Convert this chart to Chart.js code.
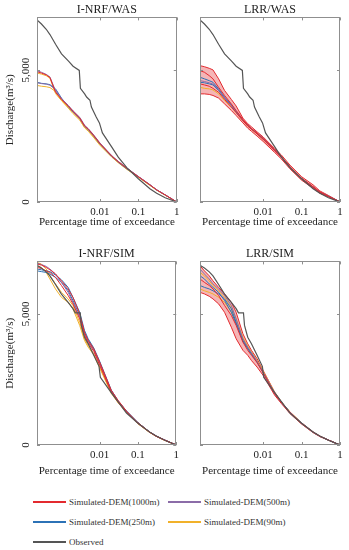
<!DOCTYPE html>
<html>
<head>
<meta charset="utf-8">
<script src="https://cdn.jsdelivr.net/npm/chart.js@4.4.0/dist/chart.umd.min.js"></script>
<style>
  body { margin: 0; background: #fff; }
  #wrap { position: relative; width: 349px; height: 550px; overflow: hidden; font-family: 'Liberation Serif', 'Times New Roman', serif; }
  canvas { position: absolute; }
  .leg { position: absolute; font-size: 9px; line-height: 10px; color: #333; white-space: nowrap; }
  .leg i { position: absolute; left: 0; top: 4px; width: 33px; height: 2px; }
</style>
</head>
<body>
<div id="wrap">
  <canvas id="c1" width="183" height="232" style="left:0;top:0"></canvas>
  <canvas id="c2" width="166" height="232" style="left:183px;top:0"></canvas>
  <canvas id="c3" width="183" height="234" style="left:0;top:244px"></canvas>
  <canvas id="c4" width="166" height="234" style="left:183px;top:244px"></canvas>
  <div id="legend"></div>
</div>
<script>
// Percentage time of exceedance (log axis) and tick labels
const simX = [0.00023, 0.0003, 0.0004, 0.0005, 0.0007, 0.001, 0.0015, 0.002, 0.003, 0.004, 0.005, 0.007, 0.01, 0.02, 0.03, 0.05, 0.1, 0.2, 0.3, 0.5, 1];
const xTicks = [0.01, 0.1, 1];
const xTickLabels = ['0.01', '0.1', '1'];
const yTicks = [0, 5000];
const yTickLabels = ['0', '5,000'];

// Observed discharge (m3/s)
const obsWasX = [0.00023, 0.0003, 0.0004, 0.0005, 0.0007, 0.001, 0.0015, 0.002, 0.0029, 0.0031, 0.004, 0.0045, 0.0055, 0.006, 0.008, 0.0097, 0.0116, 0.02, 0.03, 0.05, 0.1, 0.2, 0.3, 0.5, 1];
const obsWas = [6900, 6750, 6550, 6350, 5980, 5620, 5350, 5150, 4990, 4310, 4100, 3980, 3860, 3600, 3220, 3000, 2620, 2100, 1700, 1300, 880, 500, 330, 160, 0];
const obsSimX = [0.00023, 0.0003, 0.0004, 0.0005, 0.0007, 0.001, 0.0015, 0.002, 0.0023, 0.0031, 0.0033, 0.004, 0.005, 0.007, 0.0096, 0.0104, 0.02, 0.03, 0.05, 0.1, 0.2, 0.3, 0.5, 1];
const obsSim = [6850, 6750, 6600, 6450, 6120, 5750, 5440, 5200, 5040, 5040, 4560, 4110, 3860, 3420, 3000, 2580, 2000, 1650, 1220, 830, 500, 340, 180, 0];

// I-NRF/WAS
const aRed = [4940, 4890, 4820, 4720, 4160, 3890, 3640, 3440, 3180, 2880, 2760, 2510, 2220, 1750, 1530, 1280, 960, 650, 460, 270, 0];
const aPurple1 = [4980, 4920, 4840, 4740, 4210, 3910, 3660, 3460, 3210, 2910, 2780, 2530, 2240, 1770, 1540, 1290, 970, 660, 460, 270, 0];
const aOrange1 = [4890, 4850, 4790, 4690, 4110, 3840, 3590, 3390, 3130, 2830, 2710, 2460, 2180, 1730, 1500, 1250, 950, 630, 450, 260, 0];
const aBlue = [4540, 4500, 4480, 4450, 4290, 3940, 3620, 3410, 3160, 2870, 2740, 2490, 2200, 1740, 1510, 1260, 960, 650, 460, 270, 0];
const aPurple2 = [4520, 4490, 4470, 4430, 4260, 3910, 3650, 3420, 3170, 2880, 2760, 2510, 2220, 1750, 1530, 1280, 960, 650, 460, 270, 0];
const aOrange2 = [4420, 4390, 4370, 4340, 4190, 3850, 3560, 3350, 3100, 2810, 2680, 2430, 2150, 1710, 1490, 1240, 940, 630, 450, 260, 0];

// LRR/WAS
const bRedHi = [5170, 5130, 5070, 5010, 4670, 4230, 3890, 3640, 3180, 2970, 2850, 2660, 2470, 2030, 1780, 1400, 960, 650, 420, 250, 0];
const bRedLo = [4100, 4100, 4080, 4040, 3940, 3720, 3470, 3280, 3000, 2800, 2680, 2500, 2300, 1880, 1630, 1260, 830, 520, 330, 200, 0];
const bRedM1 = [4980, 4920, 4790, 4670, 4350, 4040, 3720, 3470, 3130, 2910, 2780, 2610, 2410, 1980, 1710, 1340, 900, 580, 380, 220, 0];
const bRedM2 = [4480, 4440, 4390, 4310, 4160, 3890, 3600, 3390, 3080, 2880, 2760, 2580, 2380, 1940, 1690, 1310, 870, 560, 360, 210, 0];
const bBlue1 = [4730, 4670, 4600, 4540, 4290, 3980, 3690, 3440, 3110, 2910, 2780, 2610, 2410, 1970, 1700, 1330, 890, 570, 370, 220, 0];
const bBlue2 = [4540, 4520, 4480, 4440, 4230, 3940, 3660, 3410, 3100, 2900, 2770, 2590, 2390, 1950, 1700, 1330, 890, 570, 370, 220, 0];
const bOrange = [4350, 4310, 4290, 4250, 4100, 3850, 3600, 3390, 3080, 2880, 2760, 2580, 2380, 1950, 1700, 1330, 890, 570, 370, 220, 0];
const bPurple = [4600, 4570, 4520, 4470, 4260, 3960, 3670, 3440, 3110, 2910, 2780, 2610, 2410, 1970, 1700, 1330, 890, 570, 370, 220, 0];

// I-NRF/SIM
const cRed1 = [6900, 6860, 6770, 6680, 6520, 6260, 5950, 5630, 5000, 4300, 3990, 3670, 3160, 2090, 1710, 1290, 850, 500, 340, 190, 0];
const cRed2 = [6770, 6730, 6640, 6580, 6390, 6080, 5700, 5380, 4810, 4180, 3900, 3570, 3040, 2020, 1640, 1260, 820, 490, 330, 180, 0];
const cPurple = [6940, 6880, 6810, 6710, 6520, 6200, 5820, 5440, 4870, 4240, 3950, 3630, 3100, 2050, 1670, 1280, 830, 500, 340, 190, 0];
const cBlue1 = [6640, 6610, 6580, 6520, 6390, 6200, 5890, 5510, 4940, 4280, 3990, 3640, 3140, 2070, 1680, 1290, 850, 500, 340, 190, 0];
const cBlue2 = [6710, 6680, 6640, 6610, 6480, 6300, 6010, 5630, 5060, 4370, 4050, 3700, 3190, 2100, 1690, 1300, 850, 500, 340, 190, 0];
const cOrange1 = [6960, 6900, 6710, 6450, 6140, 5820, 5570, 5320, 4680, 4050, 3800, 3480, 2970, 2000, 1630, 1250, 820, 490, 330, 180, 0];
const cOrange2 = [6830, 6770, 6580, 6330, 5950, 5630, 5440, 5190, 4560, 3990, 3730, 3440, 2940, 1970, 1620, 1240, 810, 480, 330, 180, 0];

// LRR/SIM
const dRedHi = [6830, 6640, 6450, 6260, 6010, 5760, 5440, 5060, 4240, 3860, 3610, 3290, 2850, 2020, 1640, 1260, 850, 500, 340, 190, 0];
const dRedLo = [5820, 5760, 5670, 5570, 5380, 5060, 4490, 4050, 3610, 3420, 3220, 2970, 2660, 1900, 1580, 1200, 800, 470, 320, 180, 0];
const dRedMid = [6330, 6200, 6080, 5950, 5700, 5320, 4940, 4560, 3920, 3610, 3420, 3140, 2760, 1960, 1620, 1240, 820, 490, 330, 190, 0];
const dPurple = [6710, 6520, 6330, 6140, 5950, 5700, 5320, 4810, 4050, 3730, 3520, 3190, 2780, 1980, 1630, 1250, 830, 490, 330, 190, 0];
const dBlue1 = [6080, 6010, 5950, 5880, 5760, 5570, 5190, 4680, 3990, 3690, 3480, 3160, 2760, 1970, 1630, 1250, 830, 490, 330, 190, 0];
const dBlue2 = [6450, 6330, 6140, 6010, 5820, 5510, 5060, 4620, 3950, 3670, 3470, 3160, 2780, 1980, 1630, 1250, 830, 490, 330, 190, 0];
const dOrange1 = [5950, 5880, 5820, 5760, 5630, 5440, 5060, 4680, 4050, 3730, 3520, 3210, 2810, 2000, 1640, 1260, 830, 490, 330, 190, 0];
const dOrange2 = [6580, 6450, 6260, 6080, 5880, 5630, 5250, 4810, 4110, 3770, 3540, 3220, 2820, 2000, 1640, 1260, 830, 490, 330, 190, 0];

const colors = { red: '#e32a2f', purple: '#8b6ca8', blue: '#2c72b6', orange: '#f1b12a', obs: '#555555' };
const serif = "'Liberation Serif', 'Times New Roman', serif";

const panels = [
  { id: 'c1', title: 'I-NRF/WAS', obsX: obsWasX, obs: obsWas, left: true,
    sims: [[aRed, 'red'], [aPurple1, 'purple'], [aPurple2, 'purple'], [aBlue, 'blue'], [aOrange1, 'orange'], [aOrange2, 'orange']] },
  { id: 'c2', title: 'LRR/WAS', obsX: obsWasX, obs: obsWas, left: false, band: [bRedHi, bRedLo],
    sims: [[bRedM1, 'red'], [bRedM2, 'red'], [bPurple, 'purple'], [bBlue1, 'blue'], [bBlue2, 'blue'], [bOrange, 'orange']] },
  { id: 'c3', title: 'I-NRF/SIM', obsX: obsSimX, obs: obsSim, left: true,
    sims: [[cRed1, 'red'], [cRed2, 'red'], [cPurple, 'purple'], [cBlue1, 'blue'], [cBlue2, 'blue'], [cOrange1, 'orange'], [cOrange2, 'orange']] },
  { id: 'c4', title: 'LRR/SIM', obsX: obsSimX, obs: obsSim, left: false, band: [dRedHi, dRedLo],
    sims: [[dRedMid, 'red'], [dPurple, 'purple'], [dBlue1, 'blue'], [dBlue2, 'blue'], [dOrange1, 'orange'], [dOrange2, 'orange']] }
];

// plot box placement inside each canvas
const layouts = {
  c1: { yw: 37, padRight: 5, xh: 30, xtp: 3.5, xtb: 3 },
  c2: { yw: 17, padRight: 26 - 17, xh: 30, xtp: 3.5, xtb: 3 },
  c3: { yw: 37, padRight: 5, xh: 33, xtp: 4, xtb: 0 },
  c4: { yw: 17, padRight: 9, xh: 33, xtp: 4, xtb: 0 }
};

function pts(xs, ys) {
  return xs.map((x, i) => ({ x: x, y: ys[i] }));
}

// box round the plot and small inward ticks
const framePlugin = {
  id: 'frame',
  afterDraw(chart) {
    const { ctx, chartArea: a, scales: { x, y } } = chart;
    ctx.save();
    ctx.strokeStyle = '#8f8f8f';
    ctx.lineWidth = 1;
    ctx.strokeRect(Math.round(a.left) + 0.5, Math.round(a.top) + 0.5, Math.round(a.width) - 1, Math.round(a.height) - 1);
    ctx.beginPath();
    xTicks.forEach(v => {
      const px = Math.round(x.getPixelForValue(v)) + 0.5;
      ctx.moveTo(px, a.bottom); ctx.lineTo(px, a.bottom - 3);
      ctx.moveTo(px, a.top); ctx.lineTo(px, a.top + 3);
    });
    yTicks.forEach(v => {
      const py = Math.round(y.getPixelForValue(v)) + 0.5;
      ctx.moveTo(a.left, py); ctx.lineTo(a.left + 3, py);
      ctx.moveTo(a.right, py); ctx.lineTo(a.right - 3, py);
    });
    ctx.stroke();
    ctx.restore();
  }
};

panels.forEach(p => {
  const L = layouts[p.id];
  const ds = [{ data: pts(p.obsX, p.obs), borderColor: colors.obs, borderWidth: 1.2 }];
  p.sims.forEach(s => ds.push({ data: pts(simX, s[0]), borderColor: colors[s[1]], borderWidth: 1 }));
  if (p.band) {
    ds.push({ data: pts(simX, p.band[0]), borderColor: colors.red, borderWidth: 1, fill: '+1', backgroundColor: 'rgba(227,42,47,0.35)' });
    ds.push({ data: pts(simX, p.band[1]), borderColor: colors.red, borderWidth: 1 });
  }

  new Chart(document.getElementById(p.id), {
    type: 'line',
    data: { datasets: ds },
    options: {
      responsive: false,
      animation: false,
      layout: { padding: { left: 0, right: L.padRight, top: 0, bottom: 0 } },
      elements: { point: { radius: 0 }, line: { tension: 0, fill: false } },
      plugins: {
        legend: { display: false },
        tooltip: { enabled: false },
        title: { display: true, text: p.title, color: '#222', fullSize: false,
          font: { family: serif, size: 12, weight: 'normal' }, padding: { top: 3, bottom: 0 } }
      },
      scales: {
        x: {
          type: 'logarithmic', min: 0.00023, max: 1,
          grid: { display: false, drawTicks: false }, border: { display: false },
          afterBuildTicks: s => { s.ticks = xTicks.map(v => ({ value: v })); },
          afterFit: s => { s.height = L.xh; },
          ticks: { color: '#222', font: { family: serif, size: 11 }, padding: L.xtp, maxRotation: 0, autoSkip: false,
            callback: (v, i) => xTickLabels[i] },
          title: { display: true, text: 'Percentage time of exceedance', color: '#222',
            font: { family: serif, size: 11 }, padding: { top: 0, bottom: L.xtb } }
        },
        y: {
          min: 0, max: 7000,
          grid: { display: false, drawTicks: false }, border: { display: false },
          afterBuildTicks: s => { s.ticks = yTicks.map(v => ({ value: v })); },
          afterFit: s => { s.width = L.yw; },
          ticks: { display: p.left, minRotation: 90, maxRotation: 90, crossAlign: 'center', padding: -1,
            color: '#222', font: { family: serif, size: 11 }, callback: (v, i) => yTickLabels[i] },
          title: { display: p.left, text: 'Discharge(m³/s)', color: '#222',
            font: { family: serif, size: 11 }, padding: { top: 3.4, bottom: 0 } }
        }
      }
    },
    plugins: [framePlugin]
  });
});

// legend
const legendItems = [
  ['Simulated-DEM(1000m)', colors.red, 33, 502],
  ['Simulated-DEM(500m)', colors.purple, 168, 502],
  ['Simulated-DEM(250m)', colors.blue, 33, 522],
  ['Simulated-DEM(90m)', colors.orange, 168, 522],
  ['Observed', colors.obs, 33, 542]
];
const legend = document.getElementById('legend');
legendItems.forEach(it => {
  const d = document.createElement('div');
  d.className = 'leg';
  d.style.left = it[2] + 'px';
  d.style.top = (it[3] - 5) + 'px';
  d.style.paddingLeft = '36px';
  d.innerHTML = '<i style="background:' + it[1] + '"></i>' + it[0];
  legend.appendChild(d);
});
</script>
</body>
</html>
